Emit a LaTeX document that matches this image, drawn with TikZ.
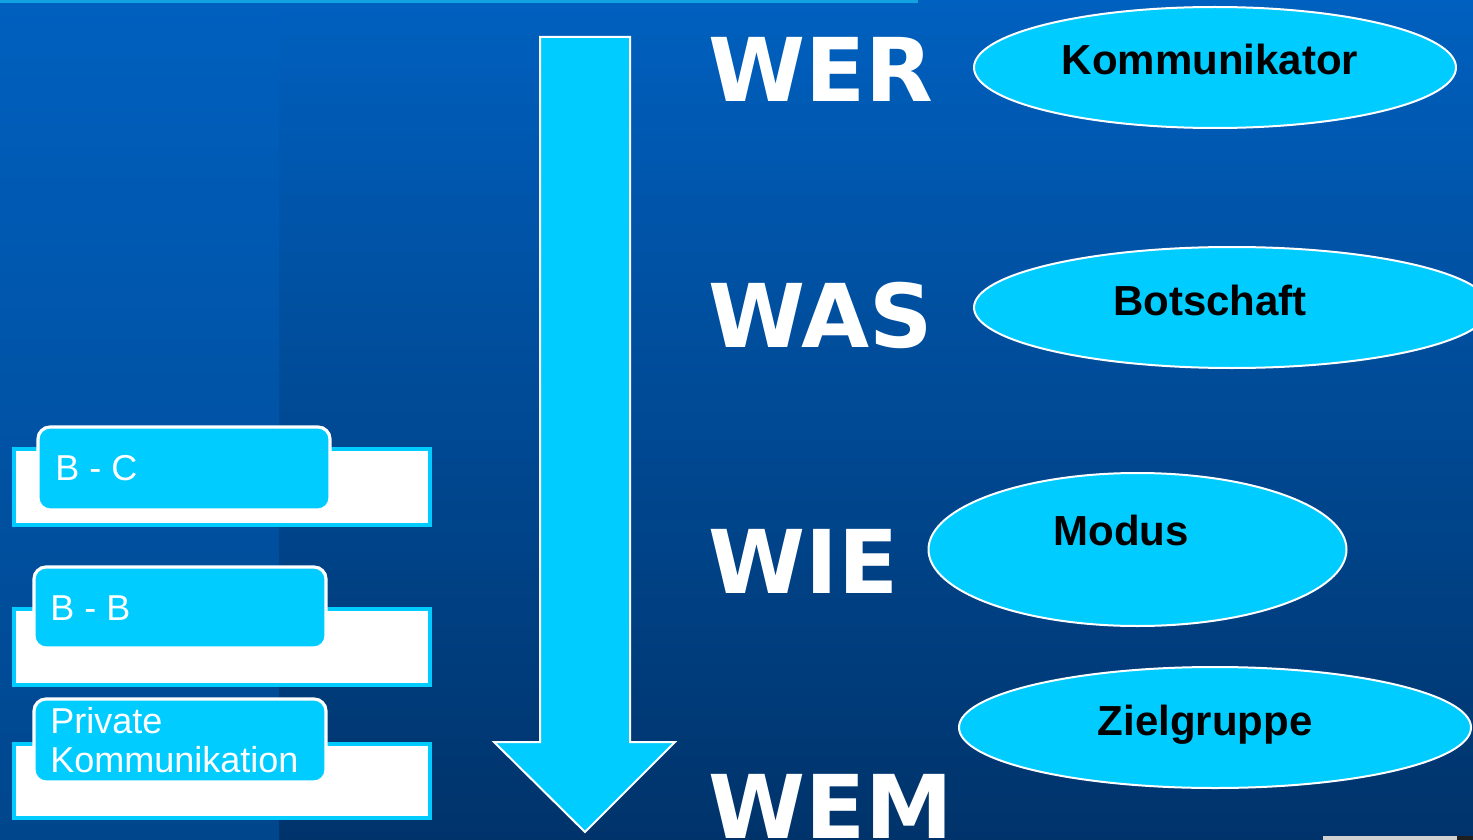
\documentclass[tikz,border=0pt]{standalone}
\usepackage{fontspec}
\setmainfont{Liberation Sans}
\newfontfamily\dejavu{DejaVu Sans}
\usetikzlibrary{shapes.geometric}
\definecolor{bgtop}{HTML}{0060BF}
\definecolor{bgbotL}{HTML}{00468C}
\definecolor{bgbotR}{HTML}{00336A}
\definecolor{cyanfill}{HTML}{00CCFF}
\definecolor{topline}{HTML}{12A2E2}
\tikzset{
  bigword/.style={anchor=base west, inner sep=0pt, text=white, font=\dejavu\bfseries\fontsize{44}{44}\selectfont},
  ovalbox/.style={ellipse, fill=cyanfill, draw=white, line width=1pt, inner sep=0pt},
  ovaltext/.style={anchor=base, inner sep=0pt, text=black, font=\bfseries\fontsize{21}{21}\selectfont},
  whitebar/.style={fill=white, draw=cyanfill, line width=2.2pt},
  tabbox/.style={fill=cyanfill, draw=white, line width=1.6pt, rounded corners=6pt},
  tabtext/.style={anchor=base west, inner sep=0pt, text=white, font=\fontsize{18}{19.5}\selectfont},
}
\begin{document}
\begin{tikzpicture}[x=0.5pt, y=-0.5pt]
\useasboundingbox (0,0) rectangle (1473,840);
\clip (0,0) rectangle (1473,840);
% background
\shade[top color=bgtop, bottom color=bgbotR] (279,0) rectangle (1473,840);
\shade[top color=bgtop, bottom color=bgbotL] (0,0) rectangle (279,840);
\fill[topline] (0,0) rectangle (918,3);
\fill[black!18] (1323,836) rectangle (1457,840);
\fill[black!88] (1457,836) rectangle (1473,840);
% arrow
\coordinate (a1) at (540,37);
\coordinate (a2) at (630,37);
\coordinate (a3) at (630,742);
\coordinate (a4) at (675,742);
\coordinate (a5) at (585,832);
\coordinate (a6) at (494,742);
\coordinate (a7) at (540,742);
\draw[fill=cyanfill, draw=white, line width=1pt, line join=miter] (a1) -- (a2) -- (a3) -- (a4) -- (a5) -- (a6) -- (a7) -- cycle;
% words
\node[bigword] (wer) at (708,102) {WER};
\node[bigword] (was) at (708,347) {WAS};
\node[bigword] (wie) at (708,593) {WIE};
\node[bigword] (wem) at (708,838) {WEM};
% ovals
\node[ovalbox, minimum width=241pt, minimum height=60.5pt] (o1) at (1215,67.5) {};
\node[ovaltext] (t1) at (1210,75) {Kommunikator};
\node[ovalbox, minimum width=258pt, minimum height=60.5pt] (o2) at (1232,307.5) {};
\node[ovaltext] (t2) at (1210,315) {Botschaft};
\node[ovalbox, minimum width=209pt, minimum height=76.5pt] (o3) at (1137.5,549.5) {};
\node[ovaltext] (t3) at (1121,545) {Modus};
\node[ovalbox, minimum width=256pt, minimum height=60.5pt] (o4) at (1215,727.5) {};
\node[ovaltext] (t4) at (1205,735) {Zielgruppe};
% left boxes
\draw[whitebar] (14,449) rectangle (430,525);
\draw[tabbox] (38,427) rectangle (330,510);
\node[tabtext] (l1) at (55,480) {B - C};
\draw[whitebar] (14,609) rectangle (430,685);
\draw[tabbox] (34,567) rectangle (326,648);
\node[tabtext] (l2) at (50,620) {B - B};
\draw[whitebar] (14,744) rectangle (430,818);
\draw[tabbox] (34,699) rectangle (326,782);
\node[tabtext] (l3) at (50,733) {Private};
\node[tabtext] (l4) at (50,772) {Kommunikation};
\end{tikzpicture}
\end{document}
